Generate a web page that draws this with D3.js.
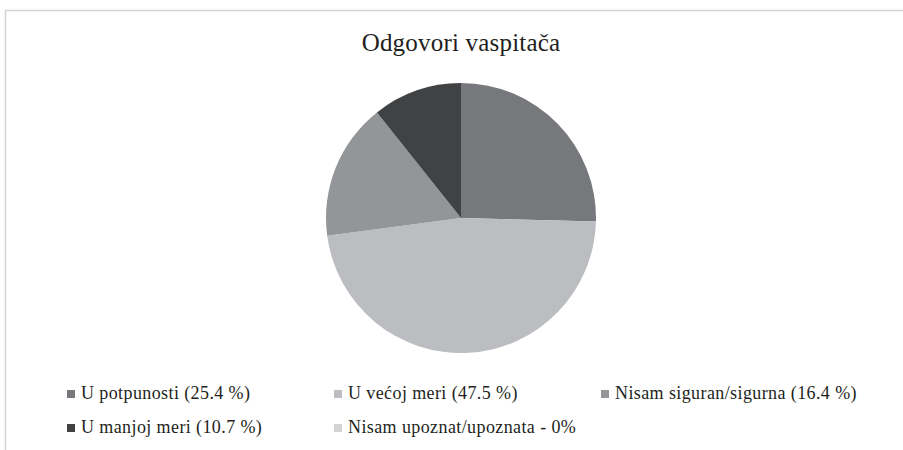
<!DOCTYPE html>
<html>
<head>
<meta charset="UTF-8">
<title>Odgovori vaspitača</title>
<script src="https://cdnjs.cloudflare.com/ajax/libs/d3/7.8.5/d3.min.js"></script>
<style>
html, body { margin: 0; padding: 0; background: #fff; }
svg { display: block; }
text { font-family: "Liberation Serif", "DejaVu Serif", serif; fill: #231f20; }
</style>
</head>
<body>
<script>
// podaci
var categories = ["U potpunosti", "U većoj meri", "Nisam siguran/sigurna", "U manjoj meri", "Nisam upoznat/upoznata"];
var values = [25.4, 47.5, 16.4, 10.7, 0];
var legendLabels = ["U potpunosti (25.4 %)", "U većoj meri (47.5 %)", "Nisam siguran/sigurna (16.4 %)",
                    "U manjoj meri (10.7 %)", "Nisam upoznat/upoznata - 0%"];
var colors = ["#77787b", "#bcbdc0", "#939598", "#414244", "#d1d3d4"];

var width = 903, height = 450;

var svg = d3.select("body").append("svg")
    .attr("width", width)
    .attr("height", height);

// okvir
svg.append("rect")
    .attr("x", 5.5).attr("y", 10.5)
    .attr("width", width + 10).attr("height", height + 10)
    .attr("fill", "none")
    .attr("stroke", "#d4d4d4")
    .attr("stroke-width", 1.5);

// naslov
svg.append("text")
    .attr("x", 461).attr("y", 51)
    .attr("text-anchor", "middle")
    .style("font-size", "25px")
    .style("letter-spacing", "0.2px")
    .text("Odgovori vaspitača");

// pita
var data = categories.map(function(c, i) { return {name: c, value: values[i], color: colors[i]}; });

var pie = d3.pie().sort(null).value(function(d) { return d.value; });
var arc = d3.arc().innerRadius(0).outerRadius(135);

var g = svg.append("g").attr("transform", "translate(461,218)");
g.selectAll("path")
    .data(pie(data))
  .enter().append("path")
    .attr("d", arc)
    .attr("fill", function(d) { return d.data.color; });

// legenda
var legend = svg.append("g").selectAll("g")
    .data(data)
  .enter().append("g")
    .attr("transform", function(d, i) {
      var col = i % 3, row = Math.floor(i / 3);
      return "translate(" + (67 + col * 267) + "," + (399 + row * 34) + ")";
    });

legend.append("rect")
    .attr("x", 0).attr("y", -9)
    .attr("width", 8).attr("height", 8)
    .attr("fill", function(d) { return d.color; });

legend.append("text")
    .attr("x", 14).attr("y", 0)
    .style("font-size", "18px")
    .style("letter-spacing", "0.4px")
    .text(function(d, i) { return legendLabels[i]; });
</script>
</body>
</html>
